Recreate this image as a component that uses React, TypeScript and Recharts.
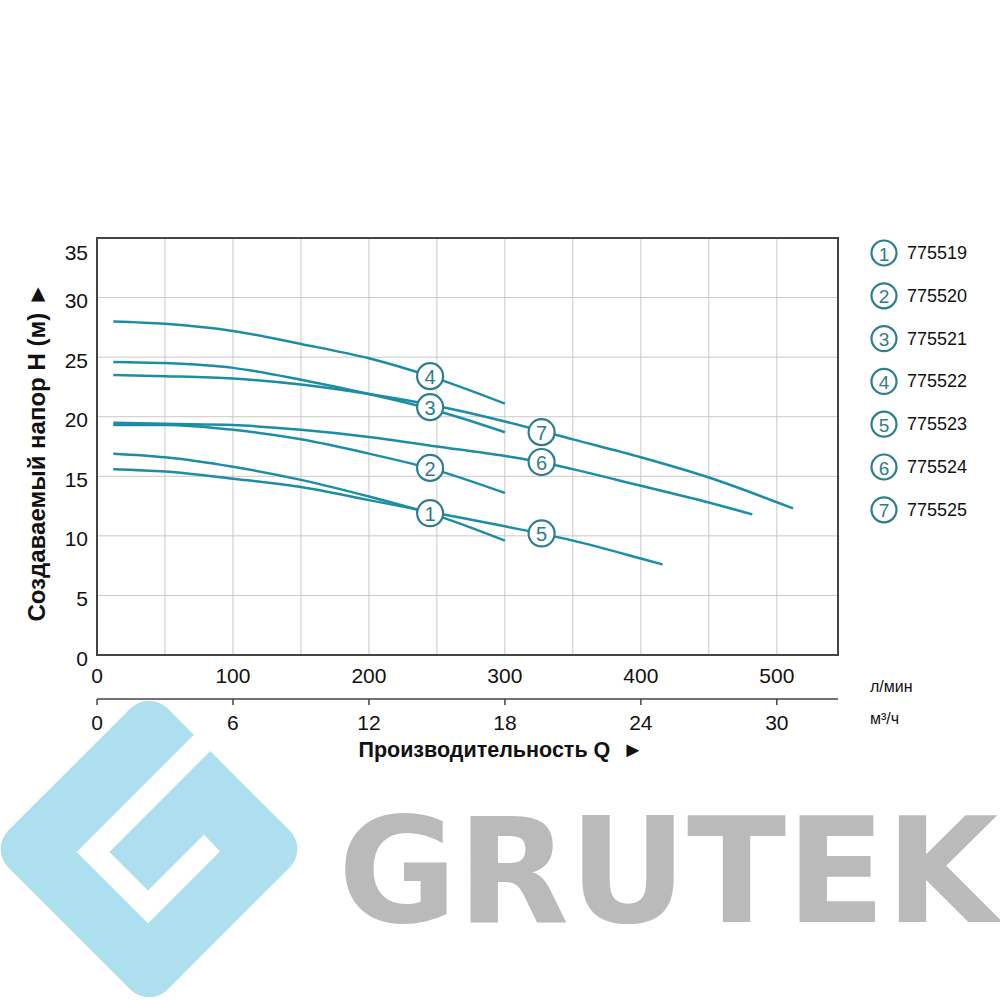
import { ComposedChart, Line, Scatter, XAxis, YAxis, CartesianGrid, ReferenceArea } from 'recharts';

// flow, l/min
const Q_SHORT = [12, 50, 100, 150, 200, 250, 300];
const Q_775523 = [12, 50, 100, 150, 200, 250, 300, 350, 400, 416];
const Q_775524 = [12, 50, 100, 150, 200, 250, 300, 326, 350, 400, 450, 482];
const Q_775525 = [12, 50, 100, 150, 200, 250, 300, 350, 400, 450, 512];

// head, m
const H_775519 = [16.9, 16.6, 15.8, 14.7, 13.3, 11.7, 9.6];
const H_775520 = [19.3, 19.3, 18.9, 18.1, 16.9, 15.5, 13.6];
const H_775521 = [24.6, 24.5, 24.1, 23.1, 21.9, 20.5, 18.7];
const H_775522 = [28.0, 27.8, 27.2, 26.1, 24.9, 23.2, 21.1];
const H_775523 = [15.6, 15.4, 14.8, 14.1, 13.0, 11.9, 10.8, 9.6, 8.1, 7.6];
const H_775524 = [19.5, 19.4, 19.3, 18.9, 18.3, 17.5, 16.7, 16.2, 15.6, 14.2, 12.8, 11.8];
const H_775525 = [23.5, 23.4, 23.2, 22.7, 21.9, 20.9, 19.6, 18.1, 16.6, 14.9, 12.3];

const MODELS = ['775519', '775520', '775521', '775522', '775523', '775524', '775525'];

// number badges on the curves
const BADGE_Q = [245, 245, 245, 245, 327, 327, 327];
const BADGE_H = [11.9, 15.7, 20.8, 23.4, 10.2, 16.2, 18.7];

const Y_TICKS = [0, 5, 10, 15, 20, 25, 30, 35];
const X_TICKS = [0, 50, 100, 150, 200, 250, 300, 350, 400, 450, 500];
const M3_TICKS = [0, 6, 12, 18, 24, 30];

const LINE = '#1b8ea6';
const BADGE = '#2e7d8c';
const FONT = '"Liberation Sans", Arial, sans-serif';

const zip = (q: number[], h: number[]) => q.map((v, i) => ({ q: v, h: h[i] }));

const series = [
  zip(Q_SHORT, H_775519),
  zip(Q_SHORT, H_775520),
  zip(Q_SHORT, H_775521),
  zip(Q_SHORT, H_775522),
  zip(Q_775523, H_775523),
  zip(Q_775524, H_775524),
  zip(Q_775525, H_775525),
];

const badges = BADGE_Q.map((q, i) => ({ q, h: BADGE_H[i], n: String(i + 1) }));

function Badge({ cx, cy, payload }: any) {
  return (
    <g>
      <circle cx={cx} cy={cy} r={13} fill="#fff" stroke={BADGE} strokeWidth={2.2} />
      <text x={cx} y={cy + 1} textAnchor="middle" dominantBaseline="central" fontSize={20} fill={BADGE} fontFamily={FONT}>
        {payload.n}
      </text>
    </g>
  );
}

function YTick({ x, y, payload }: any) {
  return (
    <text x={x} y={payload.value === 35 ? y + 14 : y + 3} textAnchor="end" dominantBaseline="central" fontSize={21} fill="#111" fontFamily={FONT}>
      {payload.value}
    </text>
  );
}

function QTick({ x, y, payload }: any) {
  if (payload.value % 100 !== 0) return null;
  return (
    <text x={x} y={y + 20} textAnchor="middle" dominantBaseline="central" fontSize={21} fill="#111" fontFamily={FONT}>
      {payload.value}
    </text>
  );
}

function M3Tick({ x, y, payload }: any) {
  return (
    <text x={x} y={y + 17} textAnchor="middle" dominantBaseline="central" fontSize={21} fill="#111" fontFamily={FONT}>
      {payload.value}
    </text>
  );
}

export default function App() {
  return (
    <div style={{ position: 'absolute', left: 0, top: 0, width: 1000, height: 1000, background: '#fff', fontFamily: FONT, overflow: 'hidden' }}>
      {/* logo behind the chart */}
      <svg width={1000} height={1000} style={{ position: 'absolute', left: 0, top: 0 }}>
        <rect x={149 - 112.5} y={849 - 112.5} width={225} height={225} rx={26} fill="#aedfee" transform="rotate(45 149 849)" />
        <polyline points="225,720 93,852 148,907 212,843" fill="none" stroke="#fff" strokeWidth={23} strokeLinejoin="miter" />
        <text x={338} y={922} fontSize={146} fontWeight="bold" fill="#bababa" fontFamily="DejaVu Sans" textLength={660} lengthAdjust="spacingAndGlyphs">
          GRUTEK
        </text>
      </svg>

      <div style={{ position: 'absolute', left: 0, top: 0 }}>
        <ComposedChart width={1000} height={780} margin={{ top: 238, right: 162, left: 57, bottom: 41 }}>
          <CartesianGrid xAxisId="a" stroke="#c9c9c9" strokeWidth={1} />
          <XAxis xAxisId="a" dataKey="q" type="number" domain={[0, 545]} ticks={X_TICKS} height={44}
            tick={<QTick />} tickSize={0} tickMargin={0} axisLine={{ stroke: '#444', strokeWidth: 2 }} tickLine={false} allowDataOverflow />
          <XAxis xAxisId="b" dataKey="m" type="number" domain={[0, 32.7]} ticks={M3_TICKS} height={40}
            tick={<M3Tick />} tickSize={6} tickMargin={0} axisLine={{ stroke: '#444', strokeWidth: 1.5 }} tickLine={{ stroke: '#444', strokeWidth: 1.5 }} allowDataOverflow />
          <YAxis type="number" domain={[0, 35]} ticks={Y_TICKS} width={40} tick={<YTick />} tickSize={0} tickMargin={9}
            axisLine={{ stroke: '#444', strokeWidth: 2 }} tickLine={false} allowDataOverflow />
          <ReferenceArea xAxisId="a" x1={0} x2={545} y1={0} y2={35} fill="none" stroke="#444" strokeWidth={2} ifOverflow="visible" />
          {series.map((d, i) => (
            <Line key={MODELS[i]} xAxisId="a" data={d} dataKey="h" type="monotone" stroke={LINE} strokeWidth={2.5}
              dot={false} activeDot={false} isAnimationActive={false} />
          ))}
          <Line xAxisId="b" data={[{ m: 0, h: 0 }, { m: 30, h: 0 }]} dataKey="h" stroke="none" dot={false} activeDot={false} isAnimationActive={false} />
          <Scatter xAxisId="a" data={badges} dataKey="h" shape={<Badge />} isAnimationActive={false} />
        </ComposedChart>
      </div>

      {/* titles, units, legend */}
      <svg width={1000} height={1000} style={{ position: 'absolute', left: 0, top: 0, pointerEvents: 'none' }}>
        <text x={36} y={452} transform="rotate(-90 36 452)" textAnchor="middle" dominantBaseline="central" fontSize={24} fontWeight="bold" fill="#111" fontFamily={FONT}>
          Создаваемый напор H (м){'\u00a0'}►
        </text>
        <text x={501} y={750} textAnchor="middle" dominantBaseline="central" fontSize={21.5} fontWeight="bold" fill="#111" fontFamily={FONT}>
          Производительность Q{'\u00a0\u00a0'}►
        </text>
        <text x={870} y={686} dominantBaseline="central" fontSize={16} fill="#111" fontFamily={FONT}>л/мин</text>
        <text x={870} y={718} dominantBaseline="central" fontSize={16} fill="#111" fontFamily={FONT}>м³/ч</text>
        {MODELS.map((m, i) => {
          const cy = 253 + i * 42.8;
          return (
            <g key={m}>
              <circle cx={884} cy={cy} r={12.5} fill="#fff" stroke={BADGE} strokeWidth={2.2} />
              <text x={884} y={cy + 1} textAnchor="middle" dominantBaseline="central" fontSize={19} fill={BADGE} fontFamily={FONT}>{i + 1}</text>
              <text x={907} y={cy} dominantBaseline="central" fontSize={18} fill="#111" fontFamily={FONT}>{m}</text>
            </g>
          );
        })}
      </svg>
    </div>
  );
}
